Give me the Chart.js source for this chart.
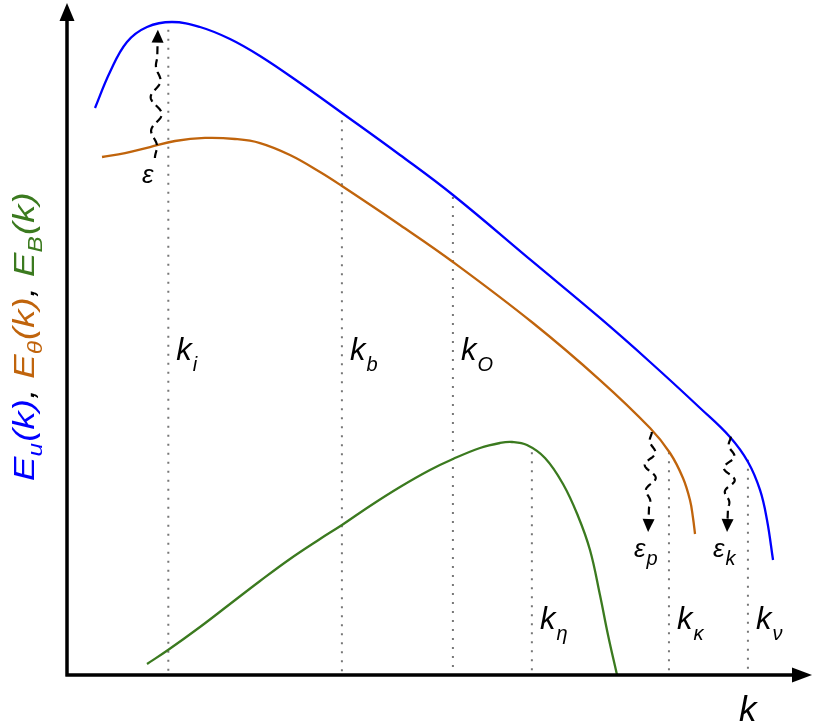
<!DOCTYPE html>
<html>
<head>
<meta charset="utf-8">
<script src="https://cdn.jsdelivr.net/npm/chart.js@4"></script>
<style>
    html, body { margin: 0; padding: 0; background: #fff; }
    #wrap { width: 830px; height: 727px; position: relative; }
</style>
</head>
<body>
<div id="wrap"><canvas id="spectrum"></canvas></div>
<script>
// Schematic spectra, k and E in arbitrary units (0..100)
const uK  = [3.76, 5.77, 8.05, 10.74, 14.09, 17.85, 21.88, 25.91, 31.28, 36.91, 44.70, 51.81, 62.55, 71.54, 78.26, 84.97, 88.99, 91.41, 93.02, 93.96, 94.77];
const uE  = [84.0, 89.33, 93.78, 96.0, 96.74, 96.0, 94.22, 91.70, 87.70, 83.26, 77.04, 71.11, 61.19, 52.89, 46.37, 39.56, 35.26, 31.56, 27.41, 22.96, 17.04];

const thK = [4.70, 7.79, 11.14, 14.50, 18.52, 22.55, 25.91, 29.93, 33.96, 36.91, 44.70, 51.81, 62.55, 71.54, 78.26, 80.94, 82.68, 83.62, 84.03, 84.30];
const thE = [76.74, 77.33, 78.22, 79.11, 79.56, 79.41, 78.81, 77.04, 74.52, 72.44, 66.67, 61.19, 52.15, 43.70, 36.59, 32.89, 29.19, 25.93, 23.26, 20.89];

const bK  = [10.74, 13.56, 17.85, 21.88, 25.91, 29.93, 33.96, 36.91, 40.67, 44.70, 48.72, 51.81, 55.44, 58.12, 59.73, 61.74, 64.16, 66.58, 68.59, 70.20, 71.54, 72.62, 73.83];
const bE  = [1.63, 3.70, 7.11, 10.52, 13.93, 17.19, 20.15, 22.22, 25.04, 27.85, 30.37, 32.0, 33.63, 34.37, 34.52, 34.07, 32.15, 28.30, 23.56, 18.52, 11.85, 5.93, 0];

// characteristic wavenumbers
const markSub = ['i', 'b', 'O', 'η', 'κ', 'ν'];
const markK   = [13.6, 36.9, 51.8, 62.4, 80.8, 91.4];
const markTop = [95.6, 82.2, 70.8, 33.0, 33.0, 31.9];
const markLabelE = [46.7, 46.7, 46.7, 6.8, 6.8, 6.8];

// energy injection / dissipation arrows
const fluxSub   = ['', 'p', 'k'];
const fluxFromK = [11.8, 78.5, 89.1];
const fluxFromE = [76.6, 36.0, 35.3];
const fluxToK   = [12.2, 78.0, 88.6];
const fluxToE   = [95.6, 21.2, 21.2];

const BLUE = '#0000ff', ORANGE = '#c0640c', GREEN = '#3b7a1f';

const pts = (xs, ys) => xs.map((x, i) => ({ x: x, y: ys[i] }));

const curve = (data, color) => ({
    data: data,
    borderColor: color,
    borderWidth: 2.3,
    pointRadius: 0,
    tension: 0.4,
    clip: false,
    order: 0
});

const datasets = [
    curve(pts(uK, uE), BLUE),
    curve(pts(thK, thE), ORANGE),
    curve(pts(bK, bE), GREEN)
];
markK.forEach((k, i) => {
    datasets.push({
        data: [{ x: k, y: markTop[i] }, { x: k, y: 0 }],
        borderColor: '#777',
        borderWidth: 2,
        borderDash: [2, 7],
        pointRadius: 0,
        clip: false,
        order: 1
    });
});

const ITAL = 'italic {s}px "Liberation Sans", Arial, sans-serif';
const font = s => ITAL.replace('{s}', s);

// draws axes arrows, labels and wavy transfer arrows
const decorations = {
    id: 'decorations',
    afterDatasetsDraw(chart) {
        const ctx = chart.ctx;
        const xs = chart.scales.x, ys = chart.scales.y;
        const a = chart.chartArea;
        ctx.save();

        // axes
        ctx.strokeStyle = '#000';
        ctx.fillStyle = '#000';
        ctx.lineWidth = 3.5;
        ctx.beginPath();
        ctx.moveTo(a.left, a.bottom + 1.5);
        ctx.lineTo(a.left, 18);
        ctx.moveTo(a.left - 1.5, a.bottom);
        ctx.lineTo(a.right - 18, a.bottom);
        ctx.stroke();
        ctx.beginPath();
        ctx.moveTo(a.left, 3);
        ctx.lineTo(a.left - 7.5, 21);
        ctx.lineTo(a.left + 7.5, 21);
        ctx.closePath();
        ctx.fill();
        ctx.beginPath();
        ctx.moveTo(a.right, a.bottom);
        ctx.lineTo(a.right - 20, a.bottom - 7.5);
        ctx.lineTo(a.right - 20, a.bottom + 7.5);
        ctx.closePath();
        ctx.fill();

        ctx.textBaseline = 'alphabetic';
        ctx.font = font(35);
        ctx.fillText('k', 739, 721);

        // k labels
        markK.forEach((k, i) => {
            const x = xs.getPixelForValue(k) + 8;
            const y = ys.getPixelForValue(markLabelE[i]);
            ctx.font = font(31);
            ctx.fillText('k', x, y);
            const w = ctx.measureText('k').width;
            ctx.font = font(20);
            ctx.fillText(markSub[i], x + w + 1, y + 11);
        });

        // wavy arrows
        fluxFromK.forEach((k, i) => {
            const x0 = xs.getPixelForValue(k), y0 = ys.getPixelForValue(fluxFromE[i]);
            const x1 = xs.getPixelForValue(fluxToK[i]), y1 = ys.getPixelForValue(fluxToE[i]);
            const dx = x1 - x0, dy = y1 - y0;
            const len = Math.hypot(dx, dy);
            const ux = dx / len, uy = dy / len;
            const head = 13;
            const L = len - head;
            ctx.setLineDash([8, 5]);
            ctx.lineWidth = 2.2;
            ctx.beginPath();
            for (let s = 0; s <= L; s += 1) {
                const t = s / L;
                const env = Math.sin(Math.PI * Math.min(1, t * 1.15));
                const off = 6 * env * Math.sin(2 * Math.PI * 3.3 * t);
                const px = x0 + ux * s - uy * off;
                const py = y0 + uy * s + ux * off;
                if (s === 0) ctx.moveTo(px, py); else ctx.lineTo(px, py);
            }
            ctx.stroke();
            ctx.setLineDash([]);
            ctx.beginPath();
            ctx.moveTo(x1, y1);
            ctx.lineTo(x1 - ux * head - uy * 6, y1 - uy * head + ux * 6);
            ctx.lineTo(x1 - ux * head + uy * 6, y1 - uy * head - ux * 6);
            ctx.closePath();
            ctx.fill();

            // label
            const down = dy > 0;
            const lx = down ? x1 - 14 : x0 - 13;
            const ly = down ? y1 + 25 : y0 + 25;
            ctx.font = font(26);
            ctx.fillText('ε', lx, ly);
            if (fluxSub[i]) {
                const w = ctx.measureText('ε').width;
                ctx.font = font(20);
                ctx.fillText(fluxSub[i], lx + w + 1, ly + 8);
            }
        });

        // y axis title, rotated
        ctx.translate(34, 481);
        ctx.rotate(-Math.PI / 2);
        ctx.scale(1.22, 1);
        const parts = [
            ['E', BLUE, 30, 0], ['u', BLUE, 20, 8], ['(k)', BLUE, 30, 0], [', ', '#000', 30, 0],
            ['E', ORANGE, 30, 0], ['θ', ORANGE, 20, 8], ['(k)', ORANGE, 30, 0], [', ', '#000', 30, 0],
            ['E', GREEN, 30, 0], ['B', GREEN, 20, 8], ['(k)', GREEN, 30, 0]
        ];
        let cx = 0;
        parts.forEach(p => {
            ctx.font = font(p[2]);
            ctx.fillStyle = p[1];
            ctx.fillText(p[0], cx, p[3]);
            cx += ctx.measureText(p[0]).width + (p[3] ? 1 : 0);
        });

        ctx.restore();
    }
};

new Chart(document.getElementById('spectrum'), {
    type: 'line',
    data: { datasets: datasets },
    options: {
        responsive: true,
        maintainAspectRatio: false,
        animation: false,
        layout: { padding: { left: 67, right: 18, top: 0, bottom: 52 } },
        scales: {
            x: { type: 'linear', min: 0, max: 100, display: false },
            y: { type: 'linear', min: 0, max: 100, display: false }
        },
        plugins: {
            legend: { display: false },
            tooltip: { enabled: false }
        }
    },
    plugins: [decorations]
});
</script>
</body>
</html>
